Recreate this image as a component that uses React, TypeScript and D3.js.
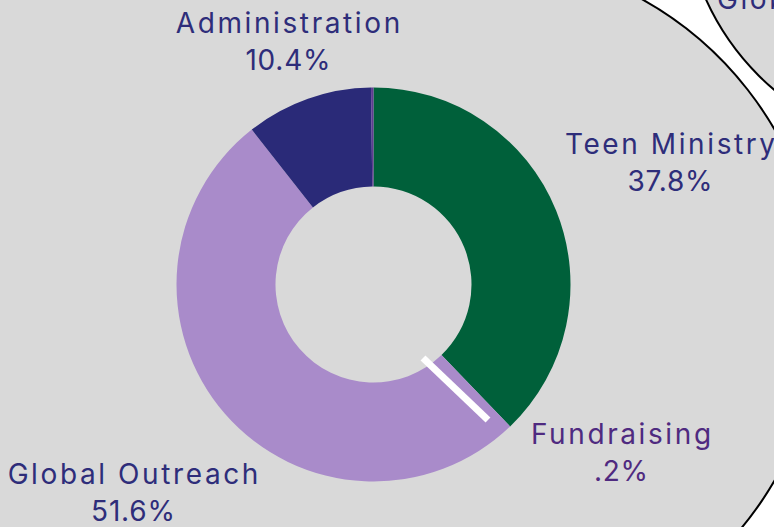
import React from "react";
import * as d3 from "d3";

const categories = ["Teen Ministry", "Global Outreach", "Administration", "Fundraising"];
const values = [37.8, 51.6, 10.4, 0.2];
const valueLabels = ["37.8%", "51.6%", "10.4%", ".2%"];
const colors = ["#00603a", "#a98bca", "#2a2a78", "#5e3c92"];
const labelColors = ["#2e2d7a", "#2e2d7a", "#2e2d7a", "#4f2a80"];

const W = 774;
const H = 527;
const cx = 373.5;
const cy = 284.5;
const outerR = 197;
const innerR = 98;

// label anchor positions (layout)
const labelPos: Record<string, [number, number]> = {
  "Teen Ministry": [670, 154],
  "Global Outreach": [133, 484],
  "Administration": [288, 33],
  "Fundraising": [621, 444],
};

// panel circles (layout)
const panelA = { cx: 471.7, cy: 305, r: 350 };
const panelB = { cx: 941, cy: -107, r: 258 };

export default function App() {
  const pie = d3.pie<number>().sort(null).value((d) => d);
  const arcs = pie(values);
  const arc = d3.arc<d3.PieArcDatum<number>>().innerRadius(innerR).outerRadius(outerR);
  const font = "Inter, 'Open Sans', sans-serif";

  const yTop = -5;
  const yBot = H + 5;
  const xTop = panelA.cx + Math.sqrt(panelA.r ** 2 - (yTop - panelA.cy) ** 2);
  const xBot = panelA.cx + Math.sqrt(panelA.r ** 2 - (yBot - panelA.cy) ** 2);
  const arcPath = `M${xTop},${yTop} A${panelA.r},${panelA.r} 0 0 1 ${xBot},${yBot}`;
  const fillPath = `${arcPath} L-10,${yBot} L-10,${yTop} Z`;

  return (
    <svg width={W} height={H} style={{ position: "absolute", left: 0, top: 0 }}>
      <rect x={0} y={0} width={W} height={H} fill="#ffffff" />
      <path d={fillPath} fill="#d9d9d9" />
      <path d={arcPath} fill="none" stroke="#000" strokeWidth={2} />
      <circle cx={panelB.cx} cy={panelB.cy} r={panelB.r} fill="#d9d9d9" stroke="#000" strokeWidth={2} />
      <text x={717} y={9} fill="#2e2d7a" fontFamily={font} fontSize={28} letterSpacing={2.6}>
        Global Outreach
      </text>
      <g transform={`translate(${cx},${cy})`}>
        {arcs.map((a, i) => (
          <path key={categories[i]} d={arc(a) || ""} fill={colors[i]} />
        ))}
        <line x1={49.5} y1={73.5} x2={114.5} y2={135.5} stroke="#ffffff" strokeWidth={7} />
      </g>
      {categories.map((c, i) => {
        const [lx, ly] = labelPos[c];
        return (
          <g key={c} fill={labelColors[i]} fontFamily={font} fontSize={28} textAnchor="middle">
            <text x={lx + 1.3} y={ly} letterSpacing={2.6}>{c}</text>
            <text x={lx + 0.4} y={ly + 37} letterSpacing={0.8}>{valueLabels[i]}</text>
          </g>
        );
      })}
    </svg>
  );
}
